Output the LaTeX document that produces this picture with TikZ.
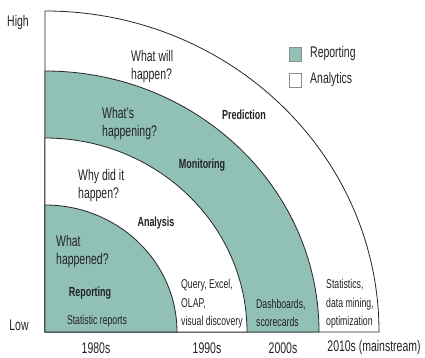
\documentclass[tikz,border=0pt]{standalone}
\usepackage{fontspec}
\setmainfont[FakeStretch=0.68]{Liberation Sans}
\definecolor{tealfill}{RGB}{145,192,182}
\definecolor{txt}{RGB}{35,35,35}
\begin{document}
\begin{tikzpicture}[x=1pt,y=-1pt,
  region/.style={draw=black!85,line width=0.8pt},
  big/.style={font=\fontsize{15.4}{18}\selectfont,text=txt,align=left,inner sep=0pt},
  small/.style={font=\fontsize{12.8}{18.5}\selectfont,text=txt,align=left,inner sep=0pt},
  bold/.style={font=\fontsize{13.2}{15}\selectfont\bfseries,text=txt,inner sep=0pt},
  legbox/.style={draw=black!45,line width=0.6pt,minimum width=12pt,minimum height=14pt,inner sep=0pt}]
\useasboundingbox (0,0) rectangle (425,358);
\coordinate (O) at (45,332);
% regions, outermost first
\filldraw[region,fill=white] (O) -- ++(334,0) arc[start angle=0,end angle=-90,x radius=334,y radius=321] -- cycle;
\filldraw[region,fill=tealfill] (O) -- ++(274,0) arc[start angle=0,end angle=-90,x radius=274,y radius=261] -- cycle;
\filldraw[region,fill=white] (O) -- ++(202,0) arc[start angle=0,end angle=-90,x radius=202,y radius=194] -- cycle;
\filldraw[region,fill=tealfill] (O) -- ++(132,0) arc[start angle=0,end angle=-90,x radius=132,y radius=127] -- cycle;
% axis labels
\node[big] (high) at (18,23) {High};
\node[big] (low) at (19,325) {Low};
\node[big] (y80) at (96,348) {1980s};
\node[big] (y90) at (207,348) {1990s};
\node[big] (y00) at (283,348) {2000s};
\node[big] (y10) at (374,348) {2010s (mainstream)};
% legend
\node[legbox,fill=tealfill] (lg1) at (295,54) {};
\node[legbox,fill=white] (lg2) at (295,80) {};
\node[big,anchor=west] (lt1) at (310,54) {Reporting};
\node[big,anchor=west] (lt2) at (310,80) {Analytics};
% questions
\node[big,anchor=west] (q4) at (131,67) {What will\\happen?};
\node[big,anchor=west] (q3) at (102,124) {What’s\\happening?};
\node[big,anchor=west] (q2) at (78,186) {Why did it\\happen?};
\node[big,anchor=west] (q1) at (56,252) {What\\happened?};
% stage names
\node[bold] (s4) at (244,115) {Prediction};
\node[bold] (s3) at (202,165) {Monitoring};
\node[bold] (s2) at (156,223) {Analysis};
\node[bold] (s1) at (90,293) {Reporting};
% tools
\node[small] (t1) at (97,321) {Statistic reports};
\node[small,anchor=west] (t2) at (181,304) {Query, Excel,\\OLAP,\\visual discovery};
\node[small,anchor=west] (t3) at (256,313) {Dashboards,\\scorecards};
\node[small,anchor=west] (t4) at (326,304) {Statistics,\\data mining,\\optimization};
\end{tikzpicture}
\end{document}
